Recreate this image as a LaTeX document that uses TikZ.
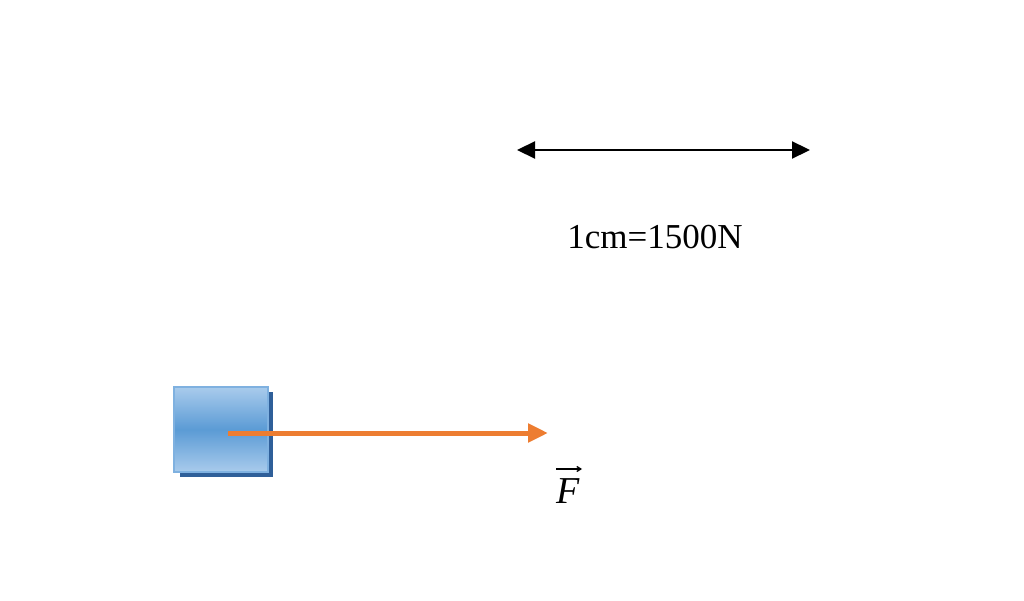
\documentclass[tikz,border=0pt]{standalone}
\usepackage{fontspec}
\setmainfont{Liberation Serif}
\usetikzlibrary{arrows.meta}
\definecolor{forceorange}{HTML}{ED7D31}
\definecolor{boxlight}{HTML}{A9CBEC}
\definecolor{boxmid}{HTML}{5B9BD5}
\definecolor{boxedge}{HTML}{7FB1E0}
\definecolor{boxshadow}{HTML}{2F5F99}
\tikzset{
  blockbox/.style={minimum width=94pt, minimum height=85pt, inner sep=0pt, draw=boxedge, line width=1.5pt,
    top color=boxlight, bottom color=boxlight, middle color=boxmid},
  shadowbox/.style={minimum width=93pt, minimum height=85pt, inner sep=0pt, fill=boxshadow},
  forcearrow/.style={draw=forceorange, line width=5pt, -{Triangle[length=20pt,width=18pt]}},
  scalearrow/.style={draw=black, line width=2.2pt, {Triangle[length=18pt,width=17pt]}-{Triangle[length=18pt,width=17pt]}},
  vecarrow/.style={draw=black, line width=1.3pt, -{Straight Barb[length=4pt,width=5pt]}},
  label/.style={inner sep=0pt, font=\fontsize{35}{42}\selectfont}
}
\begin{document}
\begin{tikzpicture}[x=1pt,y=-1pt]
\useasboundingbox (0,0) rectangle (1024,601);
\fill[white] (0,0) rectangle (1024,601);
\node[shadowbox] (shadow) at (226,434.5) {};
\node[blockbox] (block) at (221,429.5) {};
\coordinate (fstart) at (228,433);
\coordinate (fend) at (548,433);
\draw[forcearrow] (fstart) -- (fend);
\coordinate (sleft) at (517,150);
\coordinate (sright) at (810,150);
\draw[scalearrow] (sleft) -- (sright);
\node[label] (scale) at (655,237) {1cm=1500N};
\node[label, font=\fontsize{38}{44}\selectfont\itshape] (flabel) at (568,491) {F};
\coordinate (vl) at (556,469);
\coordinate (vr) at (582,469);
\draw[vecarrow] (vl) -- (vr);
\end{tikzpicture}
\end{document}
